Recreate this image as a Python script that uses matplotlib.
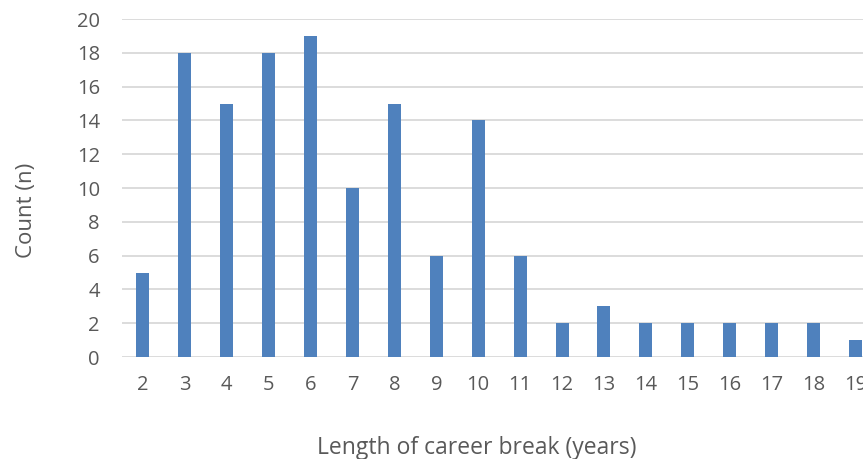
import matplotlib
matplotlib.use("Agg")
import matplotlib.pyplot as plt

years = list(range(2, 20))
counts = [5, 18, 15, 18, 19, 10, 15, 6, 14, 6, 2, 3, 2, 2, 2, 2, 2, 1]
yticks = list(range(0, 21, 2))

BAR = "#4F81BD"
GRID = "#D9D9D9"
TXT = "#595959"

plt.rcParams.update({"font.family": ["Open Sans", "DejaVu Sans"], "font.size": 12})

fig = plt.figure(figsize=(8.63, 4.59), dpi=100)
# axes run past the right edge, as in the reference (the "19" is clipped)
ax = fig.add_axes([0.1414, 0.2222, 0.874, 0.7364])
ax.bar(years, counts, width=0.31, color=BAR, zorder=3)
ax.set_xlim(1.5, 19.5)
ax.set_ylim(0, 20)
ax.set_yticks(yticks)
ax.set_xticks(years)
ax.grid(axis="y", color=GRID, lw=1.3, zorder=0)
for s in ax.spines.values():
    s.set_visible(False)
ax.tick_params(length=0, colors=TXT, labelsize=14.5)
ax.tick_params(axis="y", pad=16)
ax.tick_params(axis="x", pad=13)
fig.text(0.031, 0.5425, "Count (n)", rotation=90, ha="center", va="center",
         color=TXT, fontsize=16)
fig.text(0.552, 0.024, "Length of career break (years)", ha="center", va="center",
         color=TXT, fontsize=16.5)
fig.savefig("out.png", dpi=100)
